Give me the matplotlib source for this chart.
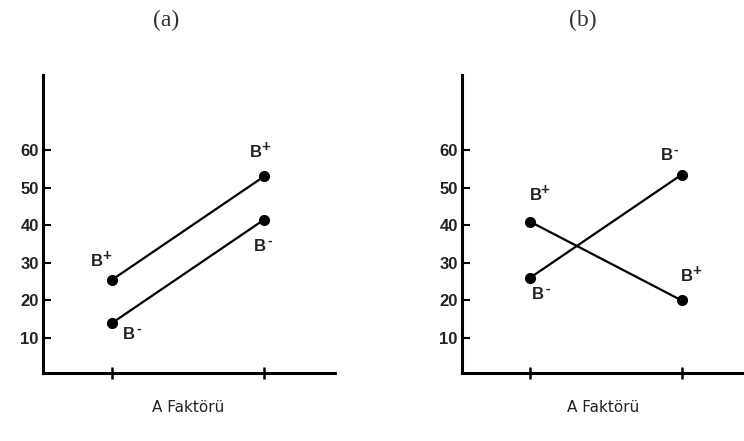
import matplotlib
matplotlib.use("Agg")
import matplotlib.pyplot as plt

# Data
levels_a = [1, 2]
a_bplus = [25.5, 53]
a_bminus = [14, 41.5]
b_bplus = [41, 20]
b_bminus = [26, 53.5]
yticks = [10, 20, 30, 40, 50, 60]
panel_titles = ["(a)", "(b)"]
xlabel = "A Faktörü"

W, H = 744, 441
fig = plt.figure(figsize=(W / 100, H / 100), dpi=100)

def px_axes(x0, x1, ytop, ybot):
    return fig.add_axes([x0 / W, 1 - ybot / H, (x1 - x0) / W, (ybot - ytop) / H])

ax1 = px_axes(43, 335, 75, 373)
ax2 = px_axes(462, 744, 75, 373)

def setup(ax, xlim):
    ax.set_xlim(*xlim)
    ax.set_ylim(0.7, 80)
    for s in ['top', 'right']:
        ax.spines[s].set_visible(False)
    for s in ['left', 'bottom']:
        ax.spines[s].set_linewidth(2.2)
        ax.spines[s].set_color('black')
    ax.set_yticks(yticks)
    ax.set_yticklabels([str(v) for v in yticks], fontfamily='Liberation Sans',
                       fontweight='bold', fontsize=12, color='#222222')
    ax.tick_params(axis='y', direction='in', length=6, width=1.5, pad=3)
    ax.set_xticks(levels_a)
    ax.set_xticklabels([])
    ax.tick_params(axis='x', direction='inout', length=9, width=1.8)

def series(ax, xs, ys):
    ax.plot(xs, ys, color='black', lw=1.6, marker='o', markersize=7, clip_on=False)

def lab(ax, sign, x, y, dx, dy):
    ax.annotate('B', (x, y), xytext=(dx - 2, dy), textcoords='offset points',
                ha='center', va='center', fontsize=12, fontweight='bold',
                fontfamily='Liberation Sans', color='#222222')
    ax.annotate(sign, (x, y), xytext=(dx + 5, dy + 4), textcoords='offset points',
                ha='center', va='center', fontsize=11 if sign == '+' else 10,
                fontweight='bold', fontfamily='Liberation Sans', color='#222222')

setup(ax1, (0.546, 2.467))
setup(ax2, (0.553, 2.41))

series(ax1, levels_a, a_bplus)
series(ax1, levels_a, a_bminus)
series(ax2, levels_a, b_bplus)
series(ax2, levels_a, b_bminus)

lab(ax1, '+', levels_a[0], a_bplus[0], -9, 13)
lab(ax1, '+', levels_a[1], a_bplus[1], -4, 17)
lab(ax1, '-', levels_a[1], a_bminus[1], -1, -19)
lab(ax1, '-', levels_a[0], a_bminus[0], 14, -8)

lab(ax2, '+', levels_a[0], b_bplus[0], 6, 19)
lab(ax2, '-', levels_a[0], b_bminus[0], 8, -12)
lab(ax2, '-', levels_a[1], b_bminus[1], -9, 14)
lab(ax2, '+', levels_a[1], b_bplus[1], 6, 17)

for cx, t in [(166, panel_titles[0]), (583, panel_titles[1])]:
    fig.text(cx / W, 1 - 20 / H, t, ha='center', va='center',
             fontfamily='Liberation Serif', fontsize=17, color='#333333')

for cx in [188, 603]:
    fig.text(cx / W, 1 - 408 / H, xlabel, ha='center', va='center',
             fontfamily='DejaVu Sans', fontsize=11, color='#222222')

fig.savefig('out.png', dpi=100)
